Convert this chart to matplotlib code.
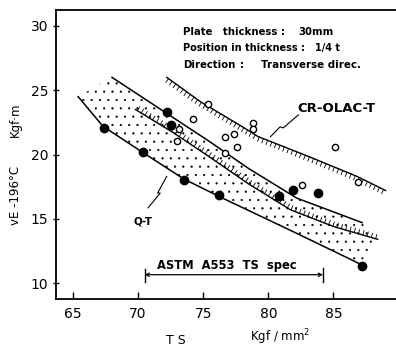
import numpy as np
import matplotlib.pyplot as plt
from matplotlib import patheffects
from matplotlib.patches import Polygon

# measured points (TS kgf/mm2, vE-196C kgf.m)
qt_ts = [67.4, 70.4, 72.2, 72.5, 73.5, 76.2, 80.85, 81.9, 83.85, 87.2]
qt_ve = [22.1, 20.2, 23.3, 22.3, 18.0, 16.85, 16.8, 17.25, 17.0, 11.3]
cr_ts = [73.0, 73.15, 74.2, 75.4, 76.7, 76.7, 77.4, 77.6, 78.8, 78.8, 82.6, 85.1, 86.9]
cr_ve = [21.05, 22.0, 22.8, 23.9, 21.4, 20.1, 21.6, 20.6, 22.45, 22.0, 17.6, 20.6, 17.9]

# scatter band boundaries
qt_low_x = [65.4, 67.3, 70.3, 73.5, 76.5, 81.7, 86.2, 87.0]
qt_low_y = [24.5, 22.2, 20.2, 18.1, 16.6, 14.1, 11.9, 11.5]
qt_up_x = [68.0, 71.9, 75.5, 78.5, 82.2, 87.2]
qt_up_y = [26.0, 23.4, 21.0, 18.9, 16.6, 14.7]
cr_low_x = [69.8, 72.7, 75.5, 78.5, 81.7, 85.0, 88.4]
cr_low_y = [23.5, 21.7, 19.8, 17.7, 15.7, 14.4, 13.4]
cr_up_x = [72.2, 74.8, 78.1, 79.2, 83.2, 86.8, 89.0]
cr_up_y = [26.0, 24.1, 22.1, 21.4, 19.8, 18.3, 17.2]

spec_lo, spec_hi = 70.5, 84.2

fig = plt.figure(figsize=(3.96, 3.47), dpi=100)
ax = fig.add_axes([0.1414, 0.1383, 0.8586, 0.8329])

# dotted Q-T band
band = list(zip(qt_low_x, qt_low_y)) + [(cr_low_x[-1], cr_low_y[-1])] + list(zip(qt_up_x, qt_up_y))[::-1]
plt.rcParams['hatch.linewidth'] = 0.35
ax.add_patch(Polygon(band, closed=True, facecolor='none', edgecolor='black',
                     hatch='..', linewidth=0))

ax.plot(qt_low_x, qt_low_y, 'k-', lw=1.1)
ax.plot(qt_up_x, qt_up_y, 'k-', lw=1.1)
ax.plot(cr_low_x, cr_low_y, 'k-', lw=1.0,
        path_effects=[patheffects.withTickedStroke(angle=90, spacing=3.2, length=1.0, linewidth=0.6)])
ax.plot(cr_up_x, cr_up_y, 'k-', lw=1.0,
        path_effects=[patheffects.withTickedStroke(angle=-90, spacing=3.2, length=1.0, linewidth=0.6)])

ax.plot(qt_ts, qt_ve, 'o', color='black', ms=6)
ax.plot(cr_ts, cr_ve, 'o', mfc='white', mec='black', ms=4.5, mew=1.0)

# labels for the bands
ax.text(82.25, 23.6, 'CR-OLAC-T', fontsize=9.5, fontweight='bold', ha='left', va='center')
ax.plot([82.3, 81.15, 80.9, 80.15], [23.08, 22.07, 22.15, 21.37], 'k-', lw=0.8)
ax.text(70.4, 14.8, 'Q-T', fontsize=7.5, fontweight='bold', ha='center', va='center')
ax.plot([70.77, 71.7, 71.5, 72.2], [15.85, 17.0, 17.0, 18.3], 'k-', lw=0.8)

# spec range
spec_y = 10.65
ax.annotate('', xy=(spec_lo, spec_y), xytext=(spec_hi, spec_y),
            arrowprops=dict(arrowstyle='<->', color='black', lw=0.9, mutation_scale=6,
                            shrinkA=0, shrinkB=0))
ax.plot([spec_lo, spec_lo], [spec_y - 0.55, spec_y + 0.45], 'k-', lw=1.0)
ax.plot([spec_hi, spec_hi], [spec_y - 0.55, spec_y + 0.5], 'k-', lw=1.0)
ax.text(76.8, 11.35, 'ASTM  A553  TS  spec', fontsize=8.3,
        fontweight='bold', ha='center', va='center')

# conditions
ax.text(73.46, 29.53, 'Plate   thickness :', fontsize=7.3, fontweight='bold', va='center')
ax.text(82.3, 29.53, '30mm', fontsize=7.3, fontweight='bold', va='center')
ax.text(73.46, 28.29, 'Position in thickness :', fontsize=7.0, fontweight='bold', va='center')
ax.text(83.6, 28.29, '1/4 t', fontsize=7.0, fontweight='bold', va='center')
ax.text(73.46, 26.97, 'Direction', fontsize=7.3, fontweight='bold', va='center')
ax.text(77.85, 26.97, ':', fontsize=7.3, fontweight='bold', va='center')
ax.text(79.4, 26.97, 'Transverse direc.', fontsize=7.4, fontweight='bold', va='center')

ax.set_xlim(63.7, 89.8)
ax.set_ylim(8.76, 31.24)
ax.set_xticks([65, 70, 75, 80, 85])
ax.set_yticks([10, 15, 20, 25, 30])
ax.tick_params(axis='x', direction='in', length=5, width=1.0, pad=6, labelsize=10)
ax.tick_params(axis='y', direction='inout', length=5, width=1.0, pad=3, labelsize=10)
ax.spines['right'].set_visible(False)
for s in ['left', 'bottom', 'top']:
    ax.spines[s].set_linewidth(1.3)

fig.text(0.444, 0.02, 'T S', fontsize=9, ha='center', va='center')
fig.text(0.707, 0.029, 'Kgf / mm$^2$', fontsize=8.5, ha='center', va='center')
fig.text(0.04, 0.438, 'vE -196°C', fontsize=8.5, rotation=90, ha='center', va='center')
fig.text(0.04, 0.654, 'Kgf·m', fontsize=8.5, rotation=90, ha='center', va='center')

fig.savefig('out.png', dpi=100)
